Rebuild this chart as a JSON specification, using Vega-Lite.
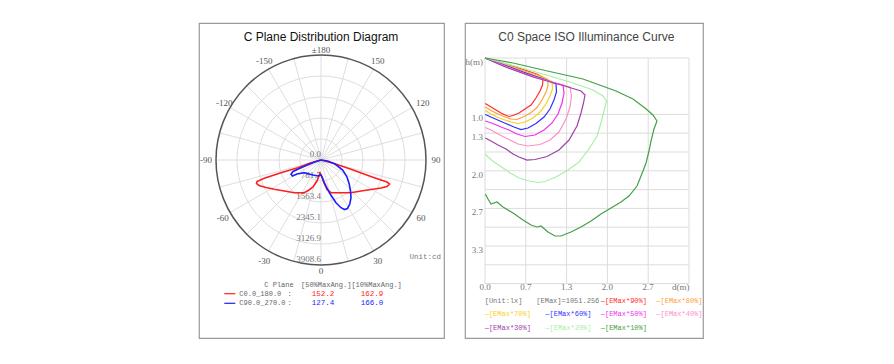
{
"$schema": "https://vega.github.io/schema/vega-lite/v6.json",
"padding": {"left": 198, "top": 22, "right": 0, "bottom": 0},
"background": "white",
"spacing": 19,
"config": {"view": {"stroke": "#9a9a9a", "strokeWidth": 1.2}},
"resolve": {"scale": {"x": "independent", "y": "independent", "color": "independent", "size": "independent"}},
"hconcat": [
{
"width": 245, "height": 315,
"encoding": {
 "x": {"field": "x", "type": "quantitative", "scale": {"domain": [-4541.4, 4578.6], "nice": false, "zero": false}, "axis": null},
 "y": {"field": "y", "type": "quantitative", "scale": {"domain": [-5099.8, 6626], "nice": false, "zero": false, "reverse": true}, "axis": null}
},
"layer": [
 {"data": {"values": [
  {"x":0,"y":3908.6,"x2":0,"y2":-3908.6},
  {"x":1011.6,"y":3775.4,"x2":-1011.6,"y2":-3775.4},
  {"x":1954.3,"y":3384.9,"x2":-1954.3,"y2":-3384.9},
  {"x":2763.8,"y":2763.8,"x2":-2763.8,"y2":-2763.8},
  {"x":3384.9,"y":1954.3,"x2":-3384.9,"y2":-1954.3},
  {"x":3775.4,"y":1011.6,"x2":-3775.4,"y2":-1011.6},
  {"x":3908.6,"y":0,"x2":-3908.6,"y2":0},
  {"x":3775.4,"y":-1011.6,"x2":-3775.4,"y2":1011.6},
  {"x":3384.9,"y":-1954.3,"x2":-3384.9,"y2":1954.3},
  {"x":2763.8,"y":-2763.8,"x2":-2763.8,"y2":2763.8},
  {"x":1954.3,"y":-3384.9,"x2":-1954.3,"y2":3384.9},
  {"x":1011.6,"y":-3775.4,"x2":-1011.6,"y2":3775.4}]},
  "mark": {"type": "rule", "color": "#dedede", "strokeWidth": 1},
  "encoding": {"x2": {"field": "x2"}, "y2": {"field": "y2"}}},
 {"data": {"values": [{"x":0,"y":0,"r":781.72},{"x":0,"y":0,"r":1563.44},{"x":0,"y":0,"r":2345.16},{"x":0,"y":0,"r":3126.88}]},
  "mark": {"type": "point", "shape": "circle", "filled": false, "color": "#dedede", "strokeWidth": 1, "opacity": 1},
  "encoding": {"size": {"field": "r", "type": "quantitative", "scale": {"type": "pow", "exponent": 2, "domain": [0, 3908.6], "range": [0, 44100]}, "legend": null}}},
 {"data": {"values": [{"x":0,"y":0,"r":3908.6}]},
  "mark": {"type": "point", "shape": "circle", "filled": false, "color": "#555555", "strokeWidth": 1.5, "opacity": 1},
  "encoding": {"size": {"field": "r", "type": "quantitative", "scale": {"type": "pow", "exponent": 2, "domain": [0, 3908.6], "range": [0, 44100]}, "legend": null}}},
 {"data": {"values": [
  {"x":0,"y":0,"t":"0.0"},{"x":0,"y":781.72,"t":"781.7"},{"x":0,"y":1563.44,"t":"1563.4"},
  {"x":0,"y":2345.16,"t":"2345.1"},{"x":0,"y":3126.88,"t":"3126.9"},{"x":0,"y":3908.6,"t":"3908.6"}]},
  "mark": {"type": "text", "align": "right", "baseline": "bottom", "dx": 0, "dy": -1, "font": "Liberation Serif", "fontSize": 9, "color": "#777777"},
  "encoding": {"text": {"field": "t"}}},
 {"data": {"values": [
  {"x":0,"y":-4095,"t":"±180"},{"x":-2111,"y":-3685,"t":"-150"},{"x":2111,"y":-3685,"t":"150"},
  {"x":-3600,"y":-2133,"t":"-120"},{"x":3786,"y":-2133,"t":"120"},{"x":-4281,"y":11,"t":"-90"},
  {"x":4281,"y":11,"t":"90"},{"x":-3659,"y":2148,"t":"-60"},{"x":3723,"y":2148,"t":"60"},
  {"x":-2111,"y":3760,"t":"-30"},{"x":2111,"y":3760,"t":"30"},{"x":0,"y":4132,"t":"0"}]},
  "mark": {"type": "text", "align": "center", "baseline": "middle", "font": "Liberation Serif", "fontSize": 9, "color": "#555555"},
  "encoding": {"text": {"field": "t"}}},
 {"data": {"values": [
  {"c":"C0","o":0,"x":0,"y":0},{"c":"C0","o":1,"x":-372,"y":101},{"c":"C0","o":2,"x":-867,"y":287},
  {"c":"C0","o":3,"x":-1489,"y":473},{"c":"C0","o":4,"x":-2111,"y":681},{"c":"C0","o":5,"x":-2382,"y":800},
  {"c":"C0","o":6,"x":-2401,"y":875},{"c":"C0","o":7,"x":-2308,"y":949},{"c":"C0","o":8,"x":-2047,"y":1024},
  {"c":"C0","o":9,"x":-1738,"y":1091},{"c":"C0","o":10,"x":-1366,"y":1154},{"c":"C0","o":11,"x":-994,"y":1217},
  {"c":"C0","o":12,"x":-622,"y":1217},{"c":"C0","o":13,"x":-447,"y":1117},{"c":"C0","o":14,"x":-298,"y":1005},
  {"c":"C0","o":15,"x":-149,"y":782},{"c":"C0","o":16,"x":-37,"y":484},{"c":"C0","o":17,"x":37,"y":633},
  {"c":"C0","o":18,"x":112,"y":856},{"c":"C0","o":19,"x":223,"y":1098},{"c":"C0","o":20,"x":372,"y":1217},
  {"c":"C0","o":21,"x":745,"y":1217},{"c":"C0","o":22,"x":1117,"y":1217},{"c":"C0","o":23,"x":1489,"y":1154},
  {"c":"C0","o":24,"x":1925,"y":1091},{"c":"C0","o":25,"x":2233,"y":1042},{"c":"C0","o":26,"x":2457,"y":986},
  {"c":"C0","o":27,"x":2550,"y":893},{"c":"C0","o":28,"x":2457,"y":819},{"c":"C0","o":29,"x":1984,"y":659},
  {"c":"C0","o":30,"x":1117,"y":346},{"c":"C0","o":31,"x":484,"y":130},{"c":"C0","o":32,"x":0,"y":0},
  {"c":"C90","o":0,"x":0,"y":0},{"c":"C90","o":1,"x":249,"y":37},{"c":"C90","o":2,"x":521,"y":149},
  {"c":"C90","o":3,"x":808,"y":372},{"c":"C90","o":4,"x":968,"y":633},{"c":"C90","o":5,"x":1053,"y":905},
  {"c":"C90","o":6,"x":1098,"y":1154},{"c":"C90","o":7,"x":1117,"y":1403},{"c":"C90","o":8,"x":1072,"y":1638},
  {"c":"C90","o":9,"x":986,"y":1805},{"c":"C90","o":10,"x":875,"y":1843},{"c":"C90","o":11,"x":745,"y":1776},
  {"c":"C90","o":12,"x":558,"y":1590},{"c":"C90","o":13,"x":436,"y":1403},{"c":"C90","o":14,"x":309,"y":1217},
  {"c":"C90","o":15,"x":186,"y":968},{"c":"C90","o":16,"x":123,"y":845},{"c":"C90","o":17,"x":56,"y":670},
  {"c":"C90","o":18,"x":0,"y":558},{"c":"C90","o":19,"x":-112,"y":596},{"c":"C90","o":20,"x":-298,"y":558},
  {"c":"C90","o":21,"x":-622,"y":473},{"c":"C90","o":22,"x":-893,"y":521},{"c":"C90","o":23,"x":-1061,"y":596},
  {"c":"C90","o":24,"x":-1117,"y":532},{"c":"C90","o":25,"x":-1042,"y":428},{"c":"C90","o":26,"x":-745,"y":287},
  {"c":"C90","o":27,"x":-436,"y":160},{"c":"C90","o":28,"x":-186,"y":56},{"c":"C90","o":29,"x":0,"y":0}]},
  "mark": {"type": "line", "strokeWidth": 1.6},
  "encoding": {"color": {"field": "c", "type": "nominal", "scale": {"domain": ["C0", "C90"], "range": ["#ff1e1e", "#1e1eff"]}, "legend": null},
   "order": {"field": "o", "type": "quantitative"}}},
 {"data": {"values": [{"c":"C0","x":-3600,"x2":-3190,"y":4977},{"c":"C90","x":-3600,"x2":-3190,"y":5334}]},
  "mark": {"type": "rule", "strokeWidth": 1.2},
  "encoding": {"x2": {"field": "x2"}, "color": {"field": "c", "type": "nominal", "legend": null}}},
 {"data": {"values": [{"c":"C0","x":74,"y":4977,"t":"152.2"},{"c":"C0","x":1898,"y":4977,"t":"162.9"},
   {"c":"C90","x":74,"y":5334,"t":"127.4"},{"c":"C90","x":1898,"y":5334,"t":"166.0"}]},
  "mark": {"type": "text", "align": "center", "baseline": "middle", "font": "Liberation Mono", "fontSize": 7.5},
  "encoding": {"text": {"field": "t"}, "color": {"field": "c", "type": "nominal", "legend": null}}},
 {"data": {"values": [{"x":-2111,"y":4653,"t":"C Plane"},{"x":-745,"y":4653,"t":"[50%MaxAng.][10%MaxAng.]"},
   {"x":-3041,"y":4977,"t":"C0.0_180.0"},{"x":-3041,"y":5334,"t":"C90.0_270.0"},
   {"x":-1250,"y":4977,"t":":"},{"x":-1250,"y":5334,"t":":"}]},
  "mark": {"type": "text", "align": "left", "baseline": "middle", "font": "Liberation Mono", "fontSize": 7, "color": "#666666"},
  "encoding": {"text": {"field": "t"}}},
 {"data": {"values": [{"x":4467,"y":3611,"t":"Unit:cd"}]},
  "mark": {"type": "text", "align": "right", "baseline": "middle", "font": "Liberation Mono", "fontSize": 7.5, "color": "#777777"},
  "encoding": {"text": {"field": "t"}}},
 {"data": {"values": [{"x":0,"y":-4579,"t":"C Plane Distribution Diagram"}]},
  "mark": {"type": "text", "align": "center", "baseline": "middle", "font": "Liberation Sans", "fontSize": 12, "color": "#111111"},
  "encoding": {"text": {"field": "t"}}}
]
},
{
"width": 238, "height": 315,
"encoding": {
 "x": {"field": "d", "type": "quantitative", "scale": {"domain": [-0.3268, 3.5621], "nice": false, "zero": false}, "axis": null},
 "y": {"field": "h", "type": "quantitative", "scale": {"domain": [-0.6206, 4.9645], "nice": false, "zero": false, "reverse": true}, "axis": null}
},
"layer": [
 {"data": {"values": [
  {"d":0,"h":0,"d2":0,"h2":4},{"d":0.6667,"h":0,"d2":0.6667,"h2":4},{"d":1.3333,"h":0,"d2":1.3333,"h2":4},
  {"d":2,"h":0,"d2":2,"h2":4},{"d":2.6667,"h":0,"d2":2.6667,"h2":4},{"d":3.3333,"h":0,"d2":3.3333,"h2":4},
  {"d":0,"h":0,"d2":3.3333,"h2":0},{"d":0,"h":1,"d2":3.3333,"h2":1},{"d":0,"h":1.3333,"d2":3.3333,"h2":1.3333},
  {"d":0,"h":1.6667,"d2":3.3333,"h2":1.6667},{"d":0,"h":2,"d2":3.3333,"h2":2},{"d":0,"h":2.3333,"d2":3.3333,"h2":2.3333},
  {"d":0,"h":2.6667,"d2":3.3333,"h2":2.6667},{"d":0,"h":3,"d2":3.3333,"h2":3},{"d":0,"h":3.3333,"d2":3.3333,"h2":3.3333},
  {"d":0,"h":3.6667,"d2":3.3333,"h2":3.6667},{"d":0,"h":4,"d2":3.3333,"h2":4}]},
  "mark": {"type": "rule", "color": "#dcdcdc", "strokeWidth": 1},
  "encoding": {"x2": {"field": "d2"}, "y2": {"field": "h2"}}},
 {"data": {"values": [
  {"s":"90%","o":0,"d":0,"h":0},{"s":"90%","o":1,"d":0.294,"h":0.089},{"s":"90%","o":2,"d":0.621,"h":0.204},
  {"s":"90%","o":3,"d":0.866,"h":0.293},{"s":"90%","o":4,"d":0.948,"h":0.355},{"s":"90%","o":5,"d":0.94,"h":0.479},
  {"s":"90%","o":6,"d":0.899,"h":0.585},{"s":"90%","o":7,"d":0.833,"h":0.709},{"s":"90%","o":8,"d":0.752,"h":0.833},
  {"s":"90%","o":9,"d":0.654,"h":0.904},{"s":"90%","o":10,"d":0.556,"h":0.975},{"s":"90%","o":11,"d":0.458,"h":1.02},
  {"s":"90%","o":12,"d":0.392,"h":1.037},{"s":"90%","o":13,"d":0.327,"h":1.011},{"s":"90%","o":14,"d":0.261,"h":0.975},
  {"s":"90%","o":15,"d":0.18,"h":0.922},{"s":"90%","o":16,"d":0.098,"h":0.869},{"s":"90%","o":17,"d":0.005,"h":0.807},

  {"s":"80%","o":0,"d":0,"h":0},{"s":"80%","o":1,"d":0.294,"h":0.098},{"s":"80%","o":2,"d":0.621,"h":0.222},
  {"s":"80%","o":3,"d":0.915,"h":0.319},{"s":"80%","o":4,"d":1.029,"h":0.381},{"s":"80%","o":5,"d":1.029,"h":0.496},
  {"s":"80%","o":6,"d":0.997,"h":0.603},{"s":"80%","o":7,"d":0.931,"h":0.745},{"s":"80%","o":8,"d":0.85,"h":0.878},
  {"s":"80%","o":9,"d":0.752,"h":0.966},{"s":"80%","o":10,"d":0.637,"h":1.037},{"s":"80%","o":11,"d":0.523,"h":1.09},
  {"s":"80%","o":12,"d":0.425,"h":1.082},{"s":"80%","o":13,"d":0.327,"h":1.046},{"s":"80%","o":14,"d":0.229,"h":1.002},
  {"s":"80%","o":15,"d":0.114,"h":0.94},{"s":"80%","o":16,"d":0.005,"h":0.869},

  {"s":"70%","o":0,"d":0,"h":0},{"s":"70%","o":1,"d":0.294,"h":0.106},{"s":"70%","o":2,"d":0.621,"h":0.239},
  {"s":"70%","o":3,"d":0.948,"h":0.355},{"s":"70%","o":4,"d":1.095,"h":0.417},{"s":"70%","o":5,"d":1.103,"h":0.55},
  {"s":"70%","o":6,"d":1.062,"h":0.674},{"s":"70%","o":7,"d":0.997,"h":0.816},{"s":"70%","o":8,"d":0.899,"h":0.957},
  {"s":"70%","o":9,"d":0.784,"h":1.064},{"s":"70%","o":10,"d":0.654,"h":1.135},{"s":"70%","o":11,"d":0.539,"h":1.161},
  {"s":"70%","o":12,"d":0.425,"h":1.135},{"s":"70%","o":13,"d":0.327,"h":1.099},{"s":"70%","o":14,"d":0.212,"h":1.055},
  {"s":"70%","o":15,"d":0.098,"h":0.993},{"s":"70%","o":16,"d":0.005,"h":0.931},

  {"s":"60%","o":0,"d":0,"h":0},{"s":"60%","o":1,"d":0.294,"h":0.115},{"s":"60%","o":2,"d":0.621,"h":0.248},
  {"s":"60%","o":3,"d":0.98,"h":0.381},{"s":"60%","o":4,"d":1.16,"h":0.461},{"s":"60%","o":5,"d":1.168,"h":0.603},
  {"s":"60%","o":6,"d":1.127,"h":0.745},{"s":"60%","o":7,"d":1.062,"h":0.904},{"s":"60%","o":8,"d":0.964,"h":1.046},
  {"s":"60%","o":9,"d":0.833,"h":1.161},{"s":"60%","o":10,"d":0.703,"h":1.241},{"s":"60%","o":11,"d":0.588,"h":1.268},
  {"s":"60%","o":12,"d":0.474,"h":1.223},{"s":"60%","o":13,"d":0.359,"h":1.17},{"s":"60%","o":14,"d":0.245,"h":1.117},
  {"s":"60%","o":15,"d":0.114,"h":1.055},{"s":"60%","o":16,"d":0.005,"h":1.002},

  {"s":"50%","o":0,"d":0,"h":0},{"s":"50%","o":1,"d":0.294,"h":0.124},{"s":"50%","o":2,"d":0.621,"h":0.266},
  {"s":"50%","o":3,"d":1.029,"h":0.408},{"s":"50%","o":4,"d":1.275,"h":0.479},{"s":"50%","o":5,"d":1.291,"h":0.621},
  {"s":"50%","o":6,"d":1.258,"h":0.798},{"s":"50%","o":7,"d":1.193,"h":0.993},{"s":"50%","o":8,"d":1.095,"h":1.152},
  {"s":"50%","o":9,"d":0.964,"h":1.277},{"s":"50%","o":10,"d":0.817,"h":1.365},{"s":"50%","o":11,"d":0.654,"h":1.392},
  {"s":"50%","o":12,"d":0.523,"h":1.348},{"s":"50%","o":13,"d":0.392,"h":1.277},{"s":"50%","o":14,"d":0.261,"h":1.223},
  {"s":"50%","o":15,"d":0.131,"h":1.161},{"s":"50%","o":16,"d":0.005,"h":1.117},

  {"s":"40%","o":0,"d":0,"h":0},{"s":"40%","o":1,"d":0.294,"h":0.133},{"s":"40%","o":2,"d":0.703,"h":0.301},
  {"s":"40%","o":3,"d":1.111,"h":0.434},{"s":"40%","o":4,"d":1.389,"h":0.514},{"s":"40%","o":5,"d":1.413,"h":0.674},
  {"s":"40%","o":6,"d":1.389,"h":0.869},{"s":"40%","o":7,"d":1.324,"h":1.082},{"s":"40%","o":8,"d":1.209,"h":1.312},
  {"s":"40%","o":9,"d":1.062,"h":1.454},{"s":"40%","o":10,"d":0.899,"h":1.534},{"s":"40%","o":11,"d":0.703,"h":1.56},
  {"s":"40%","o":12,"d":0.539,"h":1.525},{"s":"40%","o":13,"d":0.376,"h":1.436},{"s":"40%","o":14,"d":0.212,"h":1.348},
  {"s":"40%","o":15,"d":0.098,"h":1.277},{"s":"40%","o":16,"d":0.005,"h":1.232},

  {"s":"30%","o":0,"d":0,"h":0},{"s":"30%","o":1,"d":0.294,"h":0.142},{"s":"30%","o":2,"d":0.784,"h":0.337},
  {"s":"30%","o":3,"d":1.275,"h":0.488},{"s":"30%","o":4,"d":1.569,"h":0.585},{"s":"30%","o":5,"d":1.634,"h":0.656},
  {"s":"30%","o":6,"d":1.609,"h":0.798},{"s":"30%","o":7,"d":1.569,"h":0.975},{"s":"30%","o":8,"d":1.503,"h":1.206},
  {"s":"30%","o":9,"d":1.373,"h":1.454},{"s":"30%","o":10,"d":1.209,"h":1.631},{"s":"30%","o":11,"d":1.013,"h":1.746},
  {"s":"30%","o":12,"d":0.817,"h":1.8},{"s":"30%","o":13,"d":0.686,"h":1.809},{"s":"30%","o":14,"d":0.556,"h":1.755},
  {"s":"30%","o":15,"d":0.458,"h":1.702},{"s":"30%","o":16,"d":0.343,"h":1.613},{"s":"30%","o":17,"d":0.212,"h":1.543},
  {"s":"30%","o":18,"d":0.098,"h":1.472},{"s":"30%","o":19,"d":0.005,"h":1.418},

  {"s":"20%","o":0,"d":0,"h":0},{"s":"20%","o":1,"d":0.458,"h":0.133},{"s":"20%","o":2,"d":0.948,"h":0.284},
  {"s":"20%","o":3,"d":1.438,"h":0.443},{"s":"20%","o":4,"d":1.765,"h":0.567},{"s":"20%","o":5,"d":1.928,"h":0.674},
  {"s":"20%","o":6,"d":1.985,"h":0.762},{"s":"20%","o":7,"d":1.944,"h":0.94},{"s":"20%","o":8,"d":1.895,"h":1.152},
  {"s":"20%","o":9,"d":1.83,"h":1.383},{"s":"20%","o":10,"d":1.699,"h":1.613},{"s":"20%","o":11,"d":1.536,"h":1.844},
  {"s":"20%","o":12,"d":1.356,"h":1.986},{"s":"20%","o":13,"d":1.16,"h":2.11},{"s":"20%","o":14,"d":0.98,"h":2.19},
  {"s":"20%","o":15,"d":0.866,"h":2.207},{"s":"20%","o":16,"d":0.719,"h":2.181},{"s":"20%","o":17,"d":0.556,"h":2.128},
  {"s":"20%","o":18,"d":0.425,"h":2.048},{"s":"20%","o":19,"d":0.294,"h":1.95},{"s":"20%","o":20,"d":0.147,"h":1.844},
  {"s":"20%","o":21,"d":0.049,"h":1.755},{"s":"20%","o":22,"d":0.005,"h":1.702},

  {"s":"10%","o":0,"d":0,"h":0},{"s":"10%","o":1,"d":0.458,"h":0.089},{"s":"10%","o":2,"d":0.948,"h":0.213},
  {"s":"10%","o":3,"d":1.601,"h":0.372},{"s":"10%","o":4,"d":2.141,"h":0.585},{"s":"10%","o":5,"d":2.418,"h":0.727},
  {"s":"10%","o":6,"d":2.614,"h":0.887},{"s":"10%","o":7,"d":2.745,"h":1.011},{"s":"10%","o":8,"d":2.81,"h":1.117},
  {"s":"10%","o":9,"d":2.761,"h":1.259},{"s":"10%","o":10,"d":2.712,"h":1.472},{"s":"10%","o":11,"d":2.68,"h":1.649},
  {"s":"10%","o":12,"d":2.631,"h":1.862},{"s":"10%","o":13,"d":2.582,"h":2.004},{"s":"10%","o":14,"d":2.484,"h":2.27},
  {"s":"10%","o":15,"d":2.353,"h":2.447},{"s":"10%","o":16,"d":2.222,"h":2.553},{"s":"10%","o":17,"d":2.059,"h":2.66},
  {"s":"10%","o":18,"d":1.895,"h":2.766},{"s":"10%","o":19,"d":1.732,"h":2.89},{"s":"10%","o":20,"d":1.569,"h":2.996},
  {"s":"10%","o":21,"d":1.405,"h":3.085},{"s":"10%","o":22,"d":1.242,"h":3.156},{"s":"10%","o":23,"d":1.144,"h":3.156},
  {"s":"10%","o":24,"d":1.029,"h":3.085},{"s":"10%","o":25,"d":0.915,"h":2.979},{"s":"10%","o":26,"d":0.85,"h":2.996},
  {"s":"10%","o":27,"d":0.752,"h":2.961},{"s":"10%","o":28,"d":0.621,"h":2.872},{"s":"10%","o":29,"d":0.458,"h":2.748},
  {"s":"10%","o":30,"d":0.294,"h":2.642},{"s":"10%","o":31,"d":0.196,"h":2.553},{"s":"10%","o":32,"d":0.098,"h":2.589},
  {"s":"10%","o":33,"d":0.049,"h":2.5},{"s":"10%","o":34,"d":0.005,"h":2.411}]},
  "mark": {"type": "line", "strokeWidth": 1.2},
  "encoding": {"color": {"field": "s", "type": "nominal", "scale": {"domain": ["90%","80%","70%","60%","50%","40%","30%","20%","10%"], "range": ["#ff2a2a","#ffa040","#f8d020","#3030ff","#f030f0","#ff90c8","#a040a8","#a8f0a8","#44a044"]}, "legend": null},
   "order": {"field": "o", "type": "quantitative"}}},
 {"data": {"values": [{"d":0,"h":1,"t":"1.0"},{"d":0,"h":1.3333,"t":"1.3"},{"d":0,"h":2,"t":"2.0"},{"d":0,"h":2.6667,"t":"2.7"},{"d":0,"h":3.3333,"t":"3.3"},{"d":0,"h":0,"t":"h(m)"}]},
  "mark": {"type": "text", "align": "right", "baseline": "middle", "dx": -2, "dy": 4, "font": "Liberation Serif", "fontSize": 9, "color": "#777777"},
  "encoding": {"text": {"field": "t"}}},
 {"data": {"values": [{"d":0,"h":4,"t":"0.0"},{"d":0.6667,"h":4,"t":"0.7"},{"d":1.3333,"h":4,"t":"1.3"},{"d":2,"h":4,"t":"2.0"},{"d":2.6667,"h":4,"t":"2.7"},{"d":3.2,"h":4,"t":"d(m)"}]},
  "mark": {"type": "text", "align": "center", "baseline": "middle", "dy": 3, "font": "Liberation Serif", "fontSize": 9, "color": "#777777"},
  "encoding": {"text": {"field": "t"}}},
 {"data": {"values": [{"d":-0.005,"h":4.3066,"t":"[Unit:lx]"},{"d":0.838,"h":4.3066,"t":"[EMax]=1051.256"}]},
  "mark": {"type": "text", "align": "left", "baseline": "middle", "font": "Liberation Mono", "fontSize": 7, "color": "#777777"},
  "encoding": {"text": {"field": "t"}}},
 {"data": {"values": [
  {"s":"90%","d":1.891,"h":4.3066,"t":"—[EMax*90%]"},{"s":"80%","d":2.799,"h":4.3066,"t":"—[EMax*80%]"},
  {"s":"70%","d":-0.005,"h":4.5423,"t":"—[EMax*70%]"},{"s":"60%","d":0.985,"h":4.5423,"t":"—[EMax*60%]"},
  {"s":"50%","d":1.891,"h":4.5423,"t":"—[EMax*50%]"},{"s":"40%","d":2.799,"h":4.5423,"t":"—[EMax*40%]"},
  {"s":"30%","d":-0.005,"h":4.7904,"t":"—[EMax*30%]"},{"s":"20%","d":0.985,"h":4.7904,"t":"—[EMax*20%]"},
  {"s":"10%","d":1.891,"h":4.7904,"t":"—[EMax*10%]"}]},
  "mark": {"type": "text", "align": "left", "baseline": "middle", "font": "Liberation Mono", "fontSize": 7},
  "encoding": {"text": {"field": "t"}, "color": {"field": "s", "type": "nominal", "legend": null}}},
 {"data": {"values": [{"d":1.655,"h":-0.372,"t":"C0 Space ISO Illuminance Curve"}]},
  "mark": {"type": "text", "align": "center", "baseline": "middle", "font": "Liberation Sans", "fontSize": 12, "color": "#444444"},
  "encoding": {"text": {"field": "t"}}}
]
}
]
}
